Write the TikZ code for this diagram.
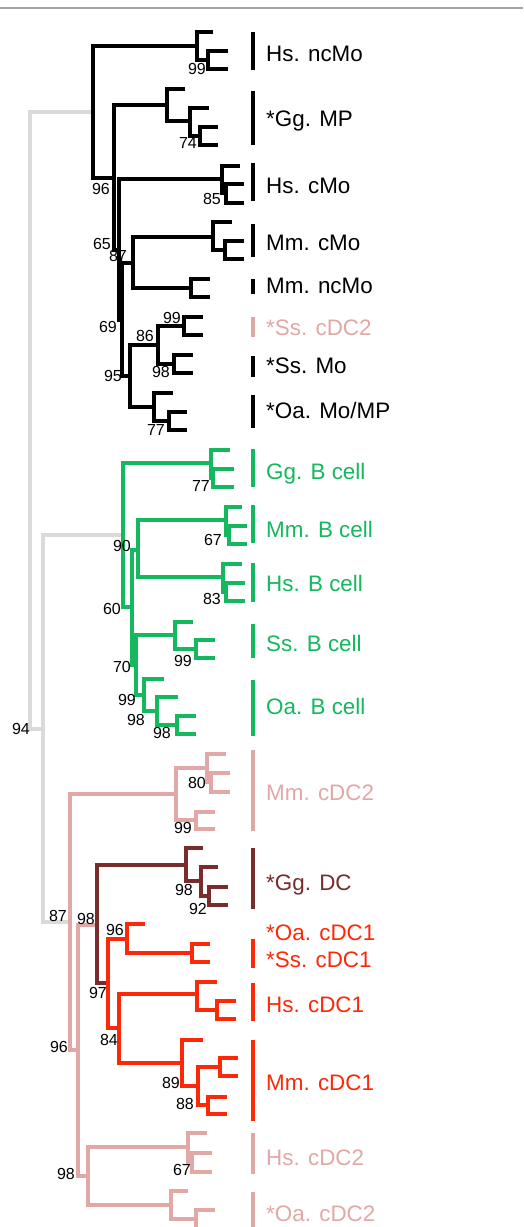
\documentclass[tikz,border=0pt]{standalone}
\usepackage{fontspec}
\setmainfont{Liberation Sans}
\definecolor{rootgray}{RGB}{218,218,218}
\definecolor{topgray}{RGB}{165,165,165}
\definecolor{cgreen}{RGB}{20,184,95}
\definecolor{cpink}{RGB}{226,168,166}
\definecolor{cbrown}{RGB}{120,44,44}
\definecolor{cred}{RGB}{252,40,8}
\newcommand\mkc[3]{\coordinate (#1) at (#2,#3);}
\tikzset{
  br/.style={line width=3.2pt},
  barline/.style={line width=3.4pt},
  bs/.style={font=\fontsize{16}{17}\selectfont, inner sep=0pt, anchor=center, text=black},
  lf/.style={font=\fontsize{22.4}{24}\selectfont, inner sep=0pt, anchor=base west},
}
\begin{document}
\begin{tikzpicture}[x=1pt,y=-1pt]
\useasboundingbox (0,0) rectangle (523,1227);
\fill[white] (0,0) rectangle (523,1227);
% top rule
\mkc{tl}{0}{8}\mkc{tr}{523}{8}
\draw[topgray, line width=2.2pt] (tl) -- (tr);
% ---------- coordinates ----------
% root
\mkc{R0}{30}{420}\mkc{R1}{43}{729}
% black clade
\mkc{B}{93}{112}
\mkc{A1}{197}{46}\mkc{A1a}{213}{32}
\mkc{A2}{208}{60}\mkc{A2a}{228}{51}\mkc{A2b}{228}{69}
\mkc{C}{114}{178}
\mkc{D1}{167}{105}\mkc{D1a}{185}{89}
\mkc{D2}{190}{121}\mkc{D2a}{209}{108}
\mkc{D3}{200}{136}\mkc{D3a}{218}{127}\mkc{D3b}{218}{145}
\mkc{E}{119}{250}
\mkc{HC1}{222}{179}\mkc{HC1a}{240}{166}
\mkc{HC2}{226}{193}\mkc{HC2a}{244}{184}\mkc{HC2b}{244}{203}
\mkc{P}{122}{320}
\mkc{F}{133}{263}
\mkc{MC1}{213}{237}\mkc{MC1a}{232}{222}
\mkc{MC2}{225}{250}\mkc{MC2a}{244}{241}\mkc{MC2b}{244}{259}
\mkc{MN}{191}{288}\mkc{MNa}{210}{279}\mkc{MNb}{210}{297}
\mkc{G}{130}{376}
\mkc{H}{158}{345}
\mkc{SC}{184}{326}\mkc{SCa}{203}{317}\mkc{SCb}{203}{335}
\mkc{SM}{174}{364}\mkc{SMa}{193}{355}\mkc{SMb}{193}{373}
\mkc{I}{154}{407}\mkc{Ia}{173}{393}
\mkc{I2}{169}{421}\mkc{I2a}{187}{412}\mkc{I2b}{187}{430}
% green clade
\mkc{G0}{123}{535}
\mkc{GB}{211}{463}\mkc{GBa}{230}{450}
\mkc{GB2}{213}{478}\mkc{GB2a}{234}{469}\mkc{GB2b}{234}{487}
\mkc{G1}{132}{607}
\mkc{G2}{138}{550}
\mkc{MB}{226}{520}\mkc{MBa}{242}{507}
\mkc{MB2}{229}{535}\mkc{MB2a}{247}{526}\mkc{MB2b}{247}{544}
\mkc{HB}{223}{577}\mkc{HBa}{242}{564}
\mkc{HB2}{226}{592}\mkc{HB2a}{245}{583}\mkc{HB2b}{245}{601}
\mkc{G3}{136}{665}
\mkc{SB}{175}{635}\mkc{SBa}{193}{622}
\mkc{SB2}{196}{649}\mkc{SB2a}{215}{640}\mkc{SB2b}{215}{658}
\mkc{G4}{144}{695}\mkc{G4a}{164}{679}
\mkc{G5}{157}{711}\mkc{G5a}{178}{697}
\mkc{G6}{177}{725}\mkc{G6a}{196}{716}\mkc{G6b}{196}{734}
% pink clade
\mkc{PK0}{70}{922}
\mkc{MC}{176}{794}
\mkc{MCa}{207}{768}\mkc{MCa1}{226}{754}
\mkc{MCb}{211}{782}\mkc{MCb1}{230}{773}\mkc{MCb2}{230}{792}
\mkc{MC3}{196}{820}\mkc{MC3a}{215}{812}\mkc{MC3b}{215}{829}
\mkc{PK1}{78}{1050}
\mkc{PK2}{88}{1176}
\mkc{HS2}{188}{1147}\mkc{HS2a}{207}{1133}
\mkc{HS2b}{192}{1162}\mkc{HS2b1}{212}{1153}\mkc{HS2b2}{212}{1172}
\mkc{OA2}{171}{1205}\mkc{OA2a}{188}{1191}
\mkc{OA2b}{196}{1219}\mkc{OA2b1}{215}{1210}\mkc{OA2b2}{215}{1229}
% brown clade
\mkc{DC0}{97}{925}
\mkc{GD1}{186}{865}\mkc{GD1a}{203}{848}
\mkc{GD2}{201}{881}\mkc{GD2a}{218}{867}
\mkc{GD3}{209}{896}\mkc{GD3a}{228}{887}\mkc{GD3b}{228}{905}
% red clade
\mkc{RC0}{108}{983}
\mkc{RC1}{127}{939}\mkc{RC1a}{145}{924}
\mkc{RC3}{192}{953}\mkc{RC3a}{210}{944}\mkc{RC3b}{210}{962}
\mkc{RC2}{119}{1028}
\mkc{HD}{197}{994}\mkc{HDa}{217}{982}
\mkc{HD2}{217}{1010}\mkc{HD2a}{236}{1001}\mkc{HD2b}{236}{1019}
\mkc{MD}{182}{1063}\mkc{MDa}{203}{1040}
\mkc{MD2}{198}{1086}
\mkc{MD3}{220}{1067}\mkc{MD3a}{238}{1058}\mkc{MD3b}{238}{1076}
\mkc{MD4}{208}{1105}\mkc{MD4a}{227}{1097}\mkc{MD4b}{227}{1114}
% ---------- branches ----------
\draw[br, rootgray] (R0) |- (B) (R0) |- (R1) (R1) |- (G0) (R1) |- (PK0);
\draw[br, black]
  (B) |- (A1) (B) |- (C)
  (A1) |- (A1a) (A1) |- (A2) (A2) |- (A2a) (A2) |- (A2b)
  (C) |- (D1) (C) |- (E)
  (D1) |- (D1a) (D1) |- (D2) (D2) |- (D2a) (D2) |- (D3) (D3) |- (D3a) (D3) |- (D3b)
  (E) |- (HC1) (E) |- (P)
  (HC1) |- (HC1a) (HC1) |- (HC2) (HC2) |- (HC2a) (HC2) |- (HC2b)
  (P) |- (F) (P) |- (G)
  (F) |- (MC1) (F) |- (MN)
  (MC1) |- (MC1a) (MC1) |- (MC2) (MC2) |- (MC2a) (MC2) |- (MC2b)
  (MN) |- (MNa) (MN) |- (MNb)
  (G) |- (H) (G) |- (I)
  (H) |- (SC) (H) |- (SM)
  (SC) |- (SCa) (SC) |- (SCb) (SM) |- (SMa) (SM) |- (SMb)
  (I) |- (Ia) (I) |- (I2) (I2) |- (I2a) (I2) |- (I2b);
\draw[br, cgreen]
  (G0) |- (GB) (G0) |- (G1)
  (GB) |- (GBa) (GB) |- (GB2) (GB2) |- (GB2a) (GB2) |- (GB2b)
  (G1) |- (G2) (G1) |- (G3)
  (G2) |- (MB) (G2) |- (HB)
  (MB) |- (MBa) (MB) |- (MB2) (MB2) |- (MB2a) (MB2) |- (MB2b)
  (HB) |- (HBa) (HB) |- (HB2) (HB2) |- (HB2a) (HB2) |- (HB2b)
  (G3) |- (SB) (G3) |- (G4)
  (SB) |- (SBa) (SB) |- (SB2) (SB2) |- (SB2a) (SB2) |- (SB2b)
  (G4) |- (G4a) (G4) |- (G5) (G5) |- (G5a) (G5) |- (G6) (G6) |- (G6a) (G6) |- (G6b);
\draw[br, cpink]
  (PK0) |- (MC) (PK0) |- (PK1)
  (MC) |- (MCa) (MC) |- (MC3)
  (MCa) |- (MCa1) (MCa) |- (MCb) (MCb) |- (MCb1) (MCb) |- (MCb2)
  (MC3) |- (MC3a) (MC3) |- (MC3b)
  (PK1) |- (DC0) (PK1) |- (PK2)
  (PK2) |- (HS2) (PK2) |- (OA2)
  (HS2) |- (HS2a) (HS2) |- (HS2b) (HS2b) |- (HS2b1) (HS2b) |- (HS2b2)
  (OA2) |- (OA2a) (OA2) |- (OA2b) (OA2b) |- (OA2b1) (OA2b) |- (OA2b2);
\draw[br, cbrown]
  (DC0) |- (GD1) (DC0) |- (RC0)
  (GD1) |- (GD1a) (GD1) |- (GD2) (GD2) |- (GD2a) (GD2) |- (GD3)
  (GD3) |- (GD3a) (GD3) |- (GD3b);
\draw[br, cred]
  (RC0) |- (RC1) (RC0) |- (RC2)
  (RC1) |- (RC1a) (RC1) |- (RC3) (RC3) |- (RC3a) (RC3) |- (RC3b)
  (RC2) |- (HD) (RC2) |- (MD)
  (HD) |- (HDa) (HD) |- (HD2) (HD2) |- (HD2a) (HD2) |- (HD2b)
  (MD) |- (MDa) (MD) |- (MD2)
  (MD2) |- (MD3) (MD2) |- (MD4)
  (MD3) |- (MD3a) (MD3) |- (MD3b) (MD4) |- (MD4a) (MD4) |- (MD4b);
% ---------- bootstrap values ----------
\node[bs] (s1) at (197,69) {99};
\node[bs] (s2) at (188,143) {74};
\node[bs] (s3) at (101,189) {96};
\node[bs] (s4) at (212,199) {85};
\node[bs] (s5) at (102,244) {65};
\node[bs] (s6) at (118,256) {87};
\node[bs] (s7) at (108,327) {69};
\node[bs] (s8) at (172,318) {99};
\node[bs] (s9) at (145,336) {86};
\node[bs] (s10) at (161,372) {98};
\node[bs] (s11) at (113,376) {95};
\node[bs] (s12) at (156,430) {77};
\node[bs] (s13) at (201,486) {77};
\node[bs] (s14) at (122,546) {90};
\node[bs] (s15) at (213,540) {67};
\node[bs] (s16) at (212,599) {83};
\node[bs] (s17) at (112,609) {60};
\node[bs] (s18) at (183,661) {99};
\node[bs] (s19) at (122,667) {70};
\node[bs] (s20) at (127,700) {99};
\node[bs] (s21) at (136,720) {98};
\node[bs] (s22) at (162,733) {98};
\node[bs] (s23) at (21,729) {94};
\node[bs] (s24) at (197,783) {80};
\node[bs] (s25) at (183,828) {99};
\node[bs] (s26) at (184,890) {98};
\node[bs] (s27) at (198,909) {92};
\node[bs] (s28) at (58,916) {87};
\node[bs] (s29) at (86,919) {98};
\node[bs] (s30) at (115,930) {96};
\node[bs] (s31) at (98,993) {97};
\node[bs] (s32) at (109,1040) {84};
\node[bs] (s33) at (59,1047) {96};
\node[bs] (s34) at (171,1083) {89};
\node[bs] (s35) at (185,1104) {88};
\node[bs] (s36) at (182,1170) {67};
\node[bs] (s37) at (66,1174) {98};
% ---------- group bars ----------
\draw[barline, black] (253,32) -- (253,70);
\draw[barline, black] (253,91) -- (253,145);
\draw[barline, black] (253,163) -- (253,201);
\draw[barline, black] (253,224) -- (253,257);
\draw[barline, black] (253,279) -- (253,294);
\draw[barline, cpink] (253,317) -- (253,337);
\draw[barline, black] (253,356) -- (253,377);
\draw[barline, black] (253,395) -- (253,428);
\draw[barline, cgreen] (253,449) -- (253,487);
\draw[barline, cgreen] (253,505) -- (253,543);
\draw[barline, cgreen] (253,563) -- (253,602);
\draw[barline, cgreen] (253,624) -- (253,658);
\draw[barline, cgreen] (253,680) -- (253,736);
\draw[barline, cpink] (253,750) -- (253,831);
\draw[barline, cbrown] (253,848) -- (253,909);
\draw[barline, cred] (253,939) -- (253,968);
\draw[barline, cred] (253,983) -- (253,1021);
\draw[barline, cred] (253,1040) -- (253,1121);
\draw[barline, cpink] (253,1133) -- (253,1174);
\draw[barline, cpink] (253,1192) -- (253,1228);
% ---------- leaf labels ----------
\node[lf, text=black] (l1) at (266,61) {Hs. ncMo};
\node[lf, text=black] (l2) at (266,126) {*Gg. MP};
\node[lf, text=black] (l3) at (266,193) {Hs. cMo};
\node[lf, text=black] (l4) at (266,250) {Mm. cMo};
\node[lf, text=black] (l5) at (266,293) {Mm. ncMo};
\node[lf, text=cpink] (l6) at (266,335) {*Ss. cDC2};
\node[lf, text=black] (l7) at (266,373) {*Ss. Mo};
\node[lf, text=black] (l8) at (266,418) {*Oa. Mo/MP};
\node[lf, text=cgreen] (l9) at (266,479) {Gg. B cell};
\node[lf, text=cgreen] (l10) at (266,537) {Mm. B cell};
\node[lf, text=cgreen] (l11) at (266,591) {Hs. B cell};
\node[lf, text=cgreen] (l12) at (266,651) {Ss. B cell};
\node[lf, text=cgreen] (l13) at (266,714) {Oa. B cell};
\node[lf, text=cpink] (l14) at (266,800) {Mm. cDC2};
\node[lf, text=cbrown] (l15) at (266,890) {*Gg. DC};
\node[lf, text=cred] (l16) at (266,940) {*Oa. cDC1};
\node[lf, text=cred] (l17) at (266,967) {*Ss. cDC1};
\node[lf, text=cred] (l18) at (266,1012) {Hs. cDC1};
\node[lf, text=cred] (l19) at (266,1090) {Mm. cDC1};
\node[lf, text=cpink] (l20) at (266,1165) {Hs. cDC2};
\node[lf, text=cpink] (l21) at (266,1221) {*Oa. cDC2};
\end{tikzpicture}
\end{document}
